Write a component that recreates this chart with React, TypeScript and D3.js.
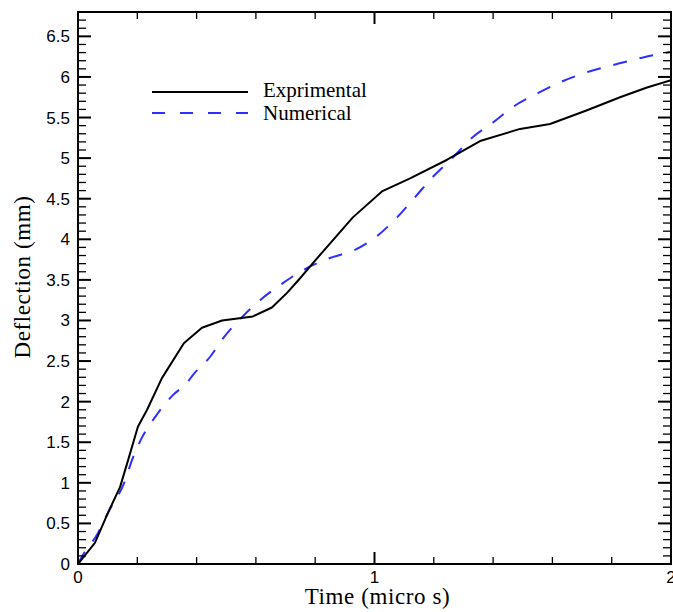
import React from "react";
import * as d3 from "d3";

const expTime = [0, 0.057, 0.101, 0.142, 0.169, 0.202, 0.233, 0.283, 0.357, 0.418, 0.486, 0.59, 0.654, 0.705, 0.749, 0.793, 0.927, 1.025, 1.12, 1.245, 1.356, 1.491, 1.592, 1.717, 1.828, 1.919, 2.0];
const expDefl = [0, 0.26, 0.63, 0.95, 1.28, 1.69, 1.9, 2.29, 2.72, 2.91, 3.0, 3.05, 3.16, 3.34, 3.52, 3.71, 4.27, 4.59, 4.75, 4.98, 5.21, 5.36, 5.42, 5.59, 5.75, 5.87, 5.96];

const numTime = [0, 0.013, 0.067, 0.101, 0.159, 0.182, 0.216, 0.26, 0.32, 0.367, 0.388, 0.445, 0.489, 0.553, 0.614, 0.691, 0.759, 0.85, 0.934, 1.012, 1.076, 1.137, 1.197, 1.265, 1.329, 1.4, 1.467, 1.551, 1.636, 1.727, 1.818, 1.906, 2.0];
const numDefl = [0, 0.09, 0.38, 0.63, 1.03, 1.28, 1.56, 1.81, 2.08, 2.23, 2.33, 2.55, 2.78, 3.04, 3.25, 3.46, 3.62, 3.77, 3.87, 4.05, 4.27, 4.52, 4.77, 5.01, 5.25, 5.44, 5.63, 5.8, 5.95, 6.07, 6.16, 6.24, 6.31];

const yMajorTicks = [0, 0.5, 1, 1.5, 2, 2.5, 3, 3.5, 4, 4.5, 5, 5.5, 6, 6.5];
const yTickLabels = ["0", "0.5", "1", "1.5", "2", "2.5", "3", "3.5", "4", "4.5", "5", "5.5", "6", "6.5"];
const xMajorTicks = [0, 1, 2];
const xTickLabels = ["0", "1", "2"];
const seriesNames = ["Exprimental", "Numerical"];

const W = 673, H = 612;
const L = 78, R = 671, T = 12, B = 564;

export default function App() {
  const x = d3.scaleLinear().domain([0, 2]).range([L, R]);
  const y = d3.scaleLinear().domain([0, 6.8]).range([B, T]);
  const yMinor = d3.range(0, 68).map((i) => i / 10).filter((v) => Math.abs(v * 2 - Math.round(v * 2)) > 1e-6);
  const xMinor = d3.range(0, 11).map((i) => i / 5).filter((v) => Math.abs(v - Math.round(v)) > 1e-6);

  const lineLin = d3.line<[number, number]>().x((d) => x(d[0])).y((d) => y(d[1])).curve(d3.curveLinear);
  const lineSmooth = d3.line<[number, number]>().x((d) => x(d[0])).y((d) => y(d[1])).curve(d3.curveMonotoneX);
  const expPts = expTime.map((t, i) => [t, expDefl[i]] as [number, number]);
  const numPts = numTime.map((t, i) => [t, numDefl[i]] as [number, number]);

  const sans = "'Liberation Sans', Arial, sans-serif";
  const serif = "'Liberation Serif', 'Times New Roman', serif";

  return (
    <svg width={W} height={H} style={{ position: "absolute", left: 0, top: 0, background: "#fff" }}>
      <rect x={0} y={0} width={W} height={H} fill="#fff" />
      <defs>
        <clipPath id="plot">
          <rect x={L} y={T} width={R - L} height={B - T} />
        </clipPath>
      </defs>
      <g clipPath="url(#plot)">
        <path d={lineSmooth(numPts) || ""} fill="none" stroke="#2e2eff" strokeWidth={2} strokeDasharray="14 13" />
        <path d={lineLin(expPts) || ""} fill="none" stroke="#000" strokeWidth={2} strokeLinejoin="round" />
      </g>
      <rect x={L} y={T} width={R - L} height={B - T} fill="none" stroke="#000" strokeWidth={2} />
      {yMajorTicks.map((v, i) => (
        <g key={"ym" + i}>
          <line x1={L} x2={L + 13} y1={y(v)} y2={y(v)} stroke="#000" strokeWidth={2} />
          <line x1={R} x2={R - 13} y1={y(v)} y2={y(v)} stroke="#000" strokeWidth={2} />
          <text x={70} y={y(v) + 6} textAnchor="end" fontFamily={sans} fontSize={17} fill="#000">
            {yTickLabels[i]}
          </text>
        </g>
      ))}
      {yMinor.map((v, i) => (
        <g key={"yn" + i}>
          <line x1={L} x2={L + 8} y1={y(v)} y2={y(v)} stroke="#000" strokeWidth={1.3} />
          <line x1={R} x2={R - 8} y1={y(v)} y2={y(v)} stroke="#000" strokeWidth={1.3} />
        </g>
      ))}
      {xMajorTicks.map((v, i) => (
        <g key={"xm" + i}>
          <line x1={x(v)} x2={x(v)} y1={B} y2={B - 12} stroke="#000" strokeWidth={2} />
          <line x1={x(v)} x2={x(v)} y1={T} y2={T + 12} stroke="#000" strokeWidth={2} />
          <text x={x(v)} y={583} textAnchor="middle" fontFamily={sans} fontSize={17} fill="#000">
            {xTickLabels[i]}
          </text>
        </g>
      ))}
      {xMinor.map((v, i) => (
        <g key={"xn" + i}>
          <line x1={x(v)} x2={x(v)} y1={B} y2={B - 7} stroke="#000" strokeWidth={1.3} />
          <line x1={x(v)} x2={x(v)} y1={T} y2={T + 7} stroke="#000" strokeWidth={1.3} />
        </g>
      ))}
      <text x={(L + R) / 2 + 3} y={604} textAnchor="middle" fontFamily={serif} fontSize={23} letterSpacing={0.6} fill="#000">
        Time (micro s)
      </text>
      <text transform={`translate(30,277) rotate(-90)`} textAnchor="middle" fontFamily={serif} fontSize={23} letterSpacing={0.6} fill="#000">
        Deflection (mm)
      </text>
      <line x1={152} x2={248} y1={92} y2={92} stroke="#000" strokeWidth={2} />
      <line x1={152} x2={248} y1={113} y2={113} stroke="#2e2eff" strokeWidth={2} strokeDasharray="13 15" />
      <text x={263} y={97} fontFamily={serif} fontSize={21} fill="#000">{seriesNames[0]}</text>
      <text x={263} y={120} fontFamily={serif} fontSize={21} fill="#000">{seriesNames[1]}</text>
    </svg>
  );
}
